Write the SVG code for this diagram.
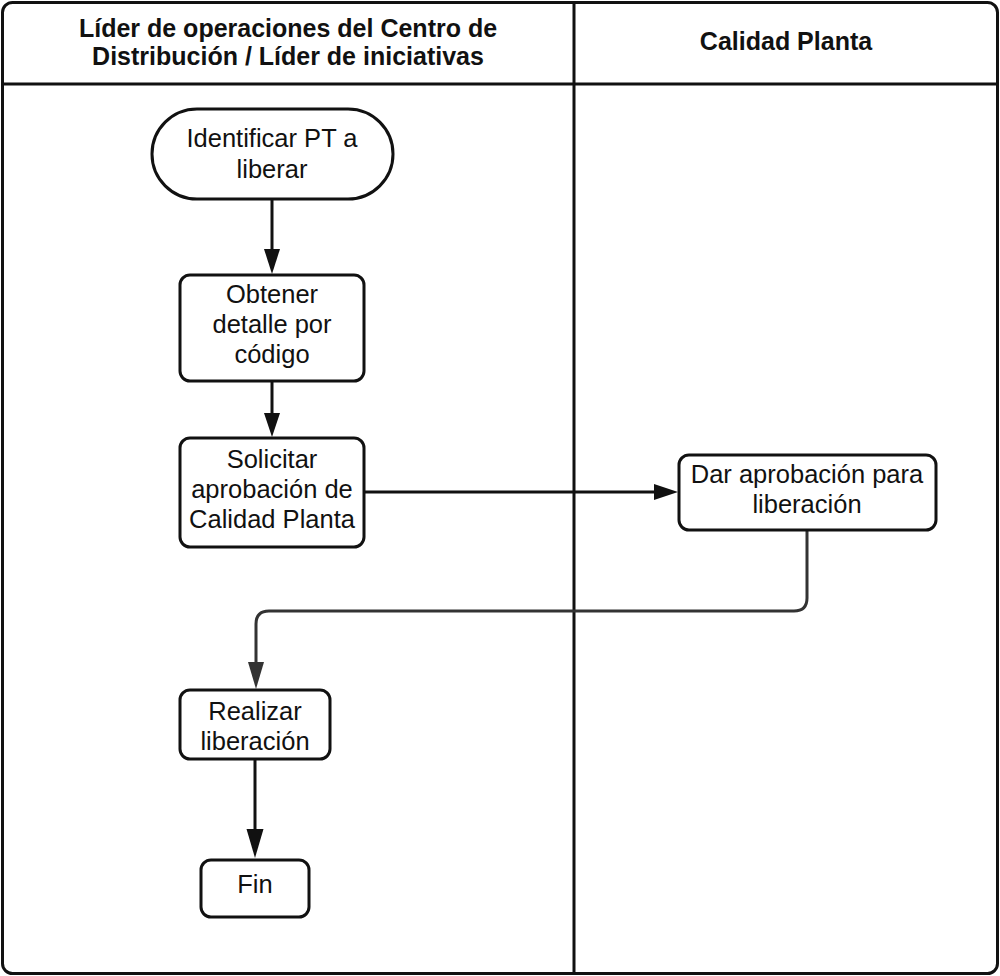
<svg xmlns="http://www.w3.org/2000/svg" width="1000" height="976" viewBox="0 0 1000 976">
  <style>
    .frame { fill: #ffffff; stroke: #111111; stroke-width: 3; }
    .lane { fill: none; stroke: #111111; stroke-width: 3; }
    .box { fill: #ffffff; stroke: #111111; stroke-width: 3; }
    .hdr { font-family: "Liberation Sans", Arial, sans-serif; font-size: 25px; font-weight: bold; fill: #111111; text-anchor: middle; }
    .lbl { font-family: "Liberation Sans", Arial, sans-serif; font-size: 25.5px; fill: #111111; text-anchor: middle; }
    .edge { fill: none; stroke: #111111; stroke-width: 3; }
    .edge-grey { fill: none; stroke: #333333; stroke-width: 3; }
    .head { fill: #111111; }
    .head-grey { fill: #333333; }
  </style>

  <!-- swimlane frame -->
  <g id="lanes">
    <rect class="frame" x="2.5" y="2.5" width="995" height="971" rx="10"/>
    <line class="lane" x1="2.5" y1="84" x2="997.5" y2="84"/>
    <line class="lane" x1="574" y1="2.5" x2="574" y2="973.5"/>
    <text class="hdr" x="288" y="37">Líder de operaciones del Centro de</text>
    <text class="hdr" x="288" y="65">Distribución / Líder de iniciativas</text>
    <text class="hdr" x="786" y="50">Calidad Planta</text>
  </g>

  <!-- connectors -->
  <g id="connectors">
    <line class="edge" x1="272" y1="199" x2="272" y2="252"/>
    <path class="head" d="M264,249 L280,249 L272,274 z"/>
    <line class="edge" x1="272" y1="381" x2="272" y2="416"/>
    <path class="head" d="M264,413 L280,413 L272,437 z"/>
    <line class="edge" x1="364" y1="492" x2="658" y2="492"/>
    <path class="head" d="M654,484 L678,492 L654,500 z"/>
    <path class="edge-grey" d="M807,530 L807,598 Q807,611 794,611 L269,611 Q256,611 256,624 L256,666"/>
    <path class="head-grey" d="M248,662 L264,662 L256,689 z"/>
    <line class="edge" x1="255" y1="759" x2="255" y2="832"/>
    <path class="head" d="M246.5,829 L263.5,829 L255,858 z"/>
  </g>

  <g id="start">
    <rect class="box" x="152" y="109" width="241" height="90" rx="45"/>
    <text class="lbl" x="272" y="147">Identificar PT a</text>
    <text class="lbl" x="272" y="178">liberar</text>
  </g>

  <g id="obtener">
    <rect class="box" x="180" y="275" width="184" height="106" rx="10"/>
    <text class="lbl" x="272" y="303">Obtener</text>
    <text class="lbl" x="272" y="333">detalle por</text>
    <text class="lbl" x="272" y="363">código</text>
  </g>

  <g id="solicitar">
    <rect class="box" x="180" y="438" width="184" height="109" rx="10"/>
    <text class="lbl" x="272" y="468">Solicitar</text>
    <text class="lbl" x="272" y="498">aprobación de</text>
    <text class="lbl" x="272" y="528">Calidad Planta</text>
  </g>

  <g id="aprobacion">
    <rect class="box" x="679" y="455" width="257" height="75" rx="10"/>
    <text class="lbl" x="807" y="483">Dar aprobación para</text>
    <text class="lbl" x="807" y="513">liberación</text>
  </g>

  <g id="realizar">
    <rect class="box" x="180" y="690" width="150" height="69" rx="10"/>
    <text class="lbl" x="255" y="720">Realizar</text>
    <text class="lbl" x="255" y="750">liberación</text>
  </g>

  <g id="fin">
    <rect class="box" x="201" y="860" width="108" height="57" rx="10"/>
    <text class="lbl" x="255" y="893">Fin</text>
  </g>
</svg>
